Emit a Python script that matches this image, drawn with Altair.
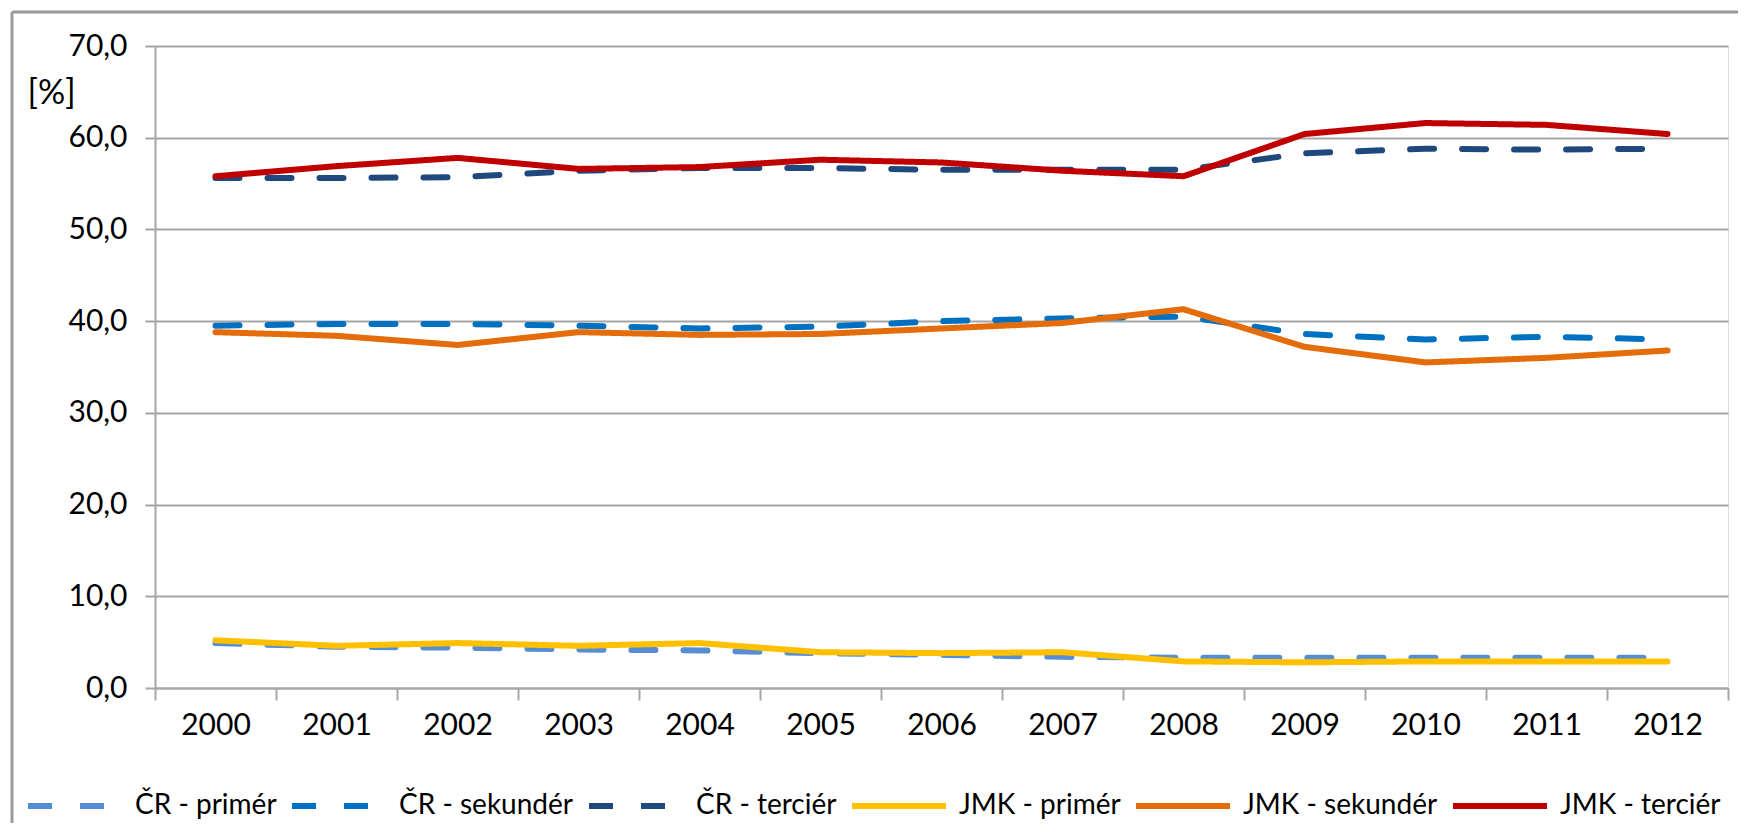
import altair as alt
import pandas as pd

years = [2000, 2001, 2002, 2003, 2004, 2005, 2006, 2007, 2008, 2009, 2010, 2011, 2012]
series_names = ["ČR - primér", "ČR - sekundér", "ČR - terciér",
                "JMK - primér", "JMK - sekundér", "JMK - terciér"]
cr_primer = [4.9, 4.5, 4.4, 4.2, 4.1, 3.8, 3.6, 3.4, 3.3, 3.3, 3.3, 3.3, 3.3]
cr_sekunder = [39.5, 39.7, 39.7, 39.5, 39.2, 39.4, 40.0, 40.3, 40.5, 38.6, 38.0, 38.3, 38.0]
cr_tercier = [55.6, 55.6, 55.7, 56.4, 56.7, 56.7, 56.5, 56.5, 56.5, 58.3, 58.8, 58.7, 58.8]
jmk_primer = [5.2, 4.6, 4.9, 4.6, 4.9, 3.9, 3.8, 3.9, 2.9, 2.8, 2.9, 2.9, 2.9]
jmk_sekunder = [38.8, 38.4, 37.4, 38.8, 38.5, 38.6, 39.2, 39.8, 41.3, 37.2, 35.5, 36.0, 36.8]
jmk_tercier = [55.8, 56.9, 57.8, 56.6, 56.8, 57.6, 57.3, 56.4, 55.8, 60.4, 61.6, 61.4, 60.4]

all_values = [cr_primer, cr_sekunder, cr_tercier, jmk_primer, jmk_sekunder, jmk_tercier]
rows = []
for name, vals in zip(series_names, all_values):
    for yr, v in zip(years, vals):
        rows.append({"rok": str(yr), "serie": name, "hodnota": v})
df = pd.DataFrame(rows)

colors = ["#558ED5", "#0070C0", "#1F497D", "#FFC000", "#E46C0A", "#C00000"]
dashes = [[24, 28], [24, 28], [24, 28], [1, 0], [1, 0], [1, 0]]

FONT = "Lato"
GRID = "#A6A6A6"

x_enc = alt.X(
    "rok:O",
    scale=alt.Scale(type="band", paddingInner=0, paddingOuter=0),
    bandPosition=0.5,
    axis=alt.Axis(
        title=None, labelAngle=0, tickBand="extent", tickSize=12,
        tickColor=GRID, tickWidth=2, domainColor=GRID, domainWidth=2,
        labelFont=FONT, labelFontSize=30, labelColor="#000000", labelPadding=10,
        grid=False,
    ),
)
y_enc = alt.Y(
    "hodnota:Q",
    scale=alt.Scale(domain=[0, 70], nice=False),
    axis=alt.Axis(
        values=[0, 10, 20, 30, 40, 50, 60, 70],
        labelExpr="replace(format(datum.value, '.1f'), '.', ',')",
        title="[%]", titleAngle=0, titleAlign="left", titleBaseline="middle",
        titleX=-128, titleY=47, titleFont=FONT, titleFontSize=34,
        titleFontWeight="normal", titleColor="#000000",
        labelFont=FONT, labelFontSize=30, labelColor="#000000", labelPadding=18,
        tickSize=10, tickColor=GRID, tickWidth=2,
        domainColor=GRID, domainWidth=2,
        grid=True, gridColor=GRID, gridWidth=2,
    ),
)
legend_def = alt.Legend(
    title=None, orient="none", direction="horizontal", columns=6,
    legendX=-130, legendY=710, gridAlign="none",
    symbolType="stroke", symbolSize=8836, symbolStrokeWidth=6,
    labelFont=FONT, labelFontSize=28, labelColor="#000000", labelLimit=600,
    labelOffset=10, columnPadding=3,
)
color_enc = alt.Color(
    "serie:N",
    scale=alt.Scale(domain=series_names, range=colors),
    legend=legend_def,
)
dash_enc = alt.StrokeDash(
    "serie:N",
    scale=alt.Scale(domain=series_names, range=dashes),
    legend=legend_def,
)

base = alt.Chart(df)
cr_layer = base.transform_filter(
    alt.FieldOneOfPredicate(field="serie", oneOf=series_names[:3])
).mark_line(strokeWidth=6, strokeCap="round", strokeJoin="round").encode(
    x=x_enc, y=y_enc, color=color_enc, strokeDash=dash_enc
)
jmk_layer = base.transform_filter(
    alt.FieldOneOfPredicate(field="serie", oneOf=series_names[3:])
).mark_line(strokeWidth=6, strokeCap="round", strokeJoin="round").encode(
    x=x_enc, y=y_enc, color=color_enc, strokeDash=dash_enc
)

frame_df = pd.DataFrame({"a": [0]})
frame_top = alt.Chart(frame_df).mark_rule(color="#9A9A9A", strokeWidth=3).encode(
    x=alt.value(-143), x2=alt.value(1760), y=alt.value(-34)
)
frame_left = alt.Chart(frame_df).mark_rule(color="#9A9A9A", strokeWidth=3).encode(
    x=alt.value(-143), y=alt.value(-34), y2=alt.value(800)
)

chart = alt.layer(frame_top, frame_left, cr_layer, jmk_layer).properties(
    width=1573, height=642,
    autosize=alt.AutoSizeParams(type="none"),
    padding={"left": 147, "top": 38, "right": 10, "bottom": 135},
).configure_view(stroke=None).configure(background="#FFFFFF")

chart.save("out.html", embed_options={"renderer": "svg", "actions": False})
